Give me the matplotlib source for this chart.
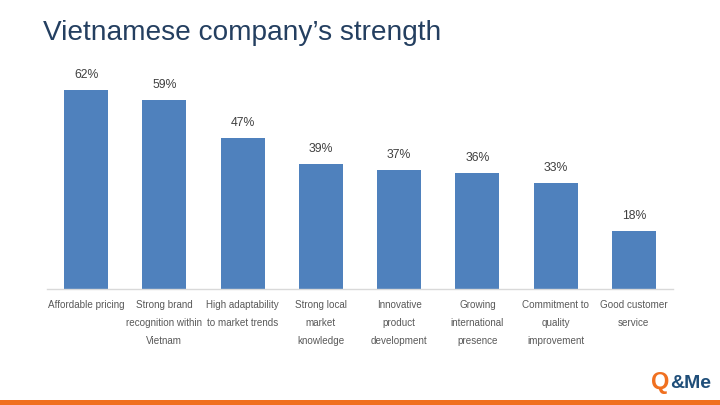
import matplotlib

matplotlib.use("Agg")
import matplotlib.pyplot as plt

categories = [
    "Affordable pricing",
    "Strong brand\nrecognition within\nVietnam",
    "High adaptability\nto market trends",
    "Strong local\nmarket\nknowledge",
    "Innovative\nproduct\ndevelopment",
    "Growing\ninternational\npresence",
    "Commitment to\nquality\nimprovement",
    "Good customer\nservice",
]
values = [62, 59, 47, 39, 37, 36, 33, 18]

BAR = "#4F81BD"
TITLE = "#243F60"
ORANGE = "#F07020"

plt.rcParams["font.family"] = ["Liberation Sans", "DejaVu Sans"]

fig = plt.figure(figsize=(7.2, 4.05), dpi=100)
ax = fig.add_axes([47 / 720, 1 - 289 / 405, 626 / 720, 224.7 / 405])

xs = range(len(values))
bars = ax.bar(xs, values, width=0.565, color=BAR)
for b, v in zip(bars, values):
    ax.annotate(f"{v}%", (b.get_x() + b.get_width() / 2, v), xytext=(0, 15),
                textcoords="offset pixels", ha="center", va="center",
                fontsize=8.8, color="#404040")

ax.set_xlim(-0.5, len(values) - 0.5)
ax.set_ylim(0, 70)
ax.set_yticks([])
ax.set_xticks(list(xs))
ax.set_xticklabels(categories, fontsize=7.1, color="#595959", linespacing=1.98, va="top")
ax.tick_params(axis="x", length=0, pad=8)
for s in ("top", "right", "left"):
    ax.spines[s].set_visible(False)
ax.spines["bottom"].set_color("#D9D9D9")
ax.spines["bottom"].set_linewidth(1)

fig.text(43 / 720, 1 - 33 / 405, "Vietnamese company\u2019s strength", fontsize=20.2,
         color=TITLE, ha="left", va="center")

# footer line + logo
fig.add_artist(plt.Rectangle((0, 0), 1, 5 / 405, transform=fig.transFigure,
                             color=ORANGE, lw=0))
fig.text(651 / 720, 1 - 383 / 405, "Q", fontsize=17, fontweight="bold",
         color=ORANGE, ha="left", va="center")
fig.text(670 / 720, 1 - 383 / 405, "&Me", fontsize=14, fontweight="bold",
         color="#1F4E79", ha="left", va="center")

fig.savefig("out.png", dpi=100)
